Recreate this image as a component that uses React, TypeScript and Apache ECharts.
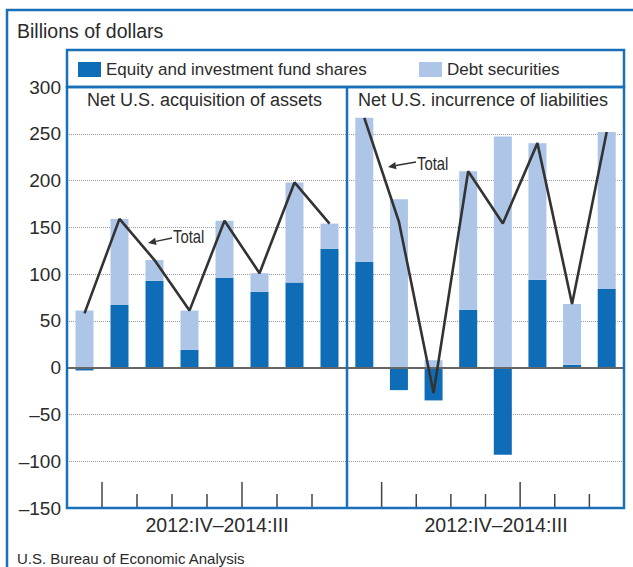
import React, { useEffect, useRef } from "react";
import * as echarts from "echarts";

const quarters = ["2012:IV", "2013:I", "2013:II", "2013:III", "2013:IV", "2014:I", "2014:II", "2014:III"];
const assetsEquity = [-3, 67, 93, 19, 96, 81, 91, 127];
const assetsDebt = [61, 92, 22, 42, 61, 20, 107, 27];
const assetsTotal = [58, 159, 115, 61, 157, 101, 198, 154];
const liabEquity = [113, -24, -35, 62, -93, 94, 3, 84];
const liabDebt = [154, 180, 8, 148, 247, 146, 65, 168];
const liabTotal = [267, 156, -27, 210, 154, 240, 68, 252];
const yMin = -150;
const yMax = 300;
const yStep = 50;
const periodLabel = "2012:IV\u20132014:III";
const EQ = "Equity and investment fund shares";
const DEBT = "Debt securities";

const FONT = "'Liberation Sans', Arial, Helvetica, sans-serif";
const BLUE = "#1a70b8";
const DARK = "#0f6cb6";
const LIGHT = "#adc5e6";
const TXT = "#2b2b2b";

export default function App() {
  const ref = useRef<HTMLDivElement>(null);
  useEffect(() => {
    if (!ref.current) return;
    const chart = echarts.init(ref.current, null, { renderer: "svg" });
    const xAx = (g: number) => ({
      gridIndex: g,
      type: "category",
      data: quarters,
      position: "bottom",
      axisLine: { show: false },
      axisLabel: { show: false },
      axisTick: { show: false },
      splitLine: { show: false },
    });
    const yAx = (g: number, labels: boolean) => ({
      gridIndex: g,
      type: "value",
      min: yMin,
      max: yMax,
      interval: yStep,
      axisLine: { show: false },
      axisTick: { show: false },
      axisLabel: {
        show: labels,
        fontSize: 19,
        fontFamily: FONT,
        color: TXT,
        margin: 6,
        formatter: (v: number) => String(v).replace("-", "\u2013"),
      },
      splitLine: { show: true, lineStyle: { type: "dotted", color: "#9a9a9a", width: 1 } },
    });
    const zeroLine = {
      silent: true,
      symbol: ["none", "none"],
      label: { show: false },
      lineStyle: { color: "#666", type: "solid", width: 2 },
      data: [{ yAxis: 0 }],
    };
    const barSeries = (name: string, data: number[], xi: number, yi: number, color: string, stack: string, ml?: any) => ({
      name,
      type: "bar",
      xAxisIndex: xi,
      yAxisIndex: yi,
      data,
      stack,
      barWidth: 18,
      itemStyle: { color },
      z: 2,
      ...(ml ? { markLine: ml } : {}),
    });
    const lineSeries = (data: number[], xi: number, yi: number) => ({
      name: "Total",
      type: "line",
      xAxisIndex: xi,
      yAxisIndex: yi,
      data,
      symbol: "none",
      lineStyle: { color: "#333", width: 2.6 },
      z: 5,
    });
    // quarter-boundary ticks along the bottom axis; taller at the start of each year
    const tickSeries = (xi: number, yi: number) => ({
      type: "custom",
      xAxisIndex: xi,
      yAxisIndex: yi,
      silent: true,
      z: 3,
      clip: false,
      data: quarters.map((_, i) => [i, yMin]).slice(1),
      renderItem: (params: any, api: any) => {
        const i = api.value(0);
        const c = api.coord([i, yMin]);
        const band = api.size([1, 0])[0];
        const x = c[0] - band / 2;
        const major = quarters[i].endsWith(":I");
        return {
          type: "line",
          shape: { x1: x, y1: c[1], x2: x, y2: c[1] - (major ? 26 : 14) },
          style: { stroke: "#444", lineWidth: 1.5 },
        };
      },
    });
    const arrow = (tip: number[], tail: number[]) => {
      const dx = tip[0] - tail[0];
      const dy = tip[1] - tail[1];
      const len = Math.sqrt(dx * dx + dy * dy);
      const ux = dx / len, uy = dy / len;
      const bx = tip[0] - ux * 8, by = tip[1] - uy * 8;
      const px = -uy * 3.6, py = ux * 3.6;
      return [
        { type: "line", z: 110, shape: { x1: tail[0], y1: tail[1], x2: bx, y2: by }, style: { stroke: "#333", lineWidth: 1.5 } },
        {
          type: "polygon",
          z: 110,
          shape: { points: [tip, [bx + px, by + py], [bx - px, by - py]] },
          style: { fill: "#333" },
        },
      ];
    };
    const text = (t: string, x: number, y: number, size: number, align = "left", sx = 1) => ({
      type: "text",
      x,
      y,
      scaleX: sx,
      z: 110,
      style: { text: t, fontSize: size, fontFamily: FONT, fill: TXT, align, verticalAlign: "middle" },
    });
    const option: any = {
      animation: false,
      textStyle: { fontFamily: FONT },
      grid: [
        { left: 67, top: 87, width: 280, bottom: 59, show: false },
        { left: 347, top: 87, width: 277, bottom: 59, show: false },
      ],
      legend: [
        {
          data: [EQ],
          left: 78,
          top: 61,
          padding: 0,
          itemWidth: 23,
          itemHeight: 15,
          icon: "rect",
          selectedMode: false,
          textStyle: { fontSize: 17, color: TXT, fontFamily: FONT },
        },
        {
          data: [DEBT],
          left: 419,
          top: 61,
          padding: 0,
          itemWidth: 23,
          itemHeight: 15,
          icon: "rect",
          selectedMode: false,
          textStyle: { fontSize: 17, color: TXT, fontFamily: FONT },
        },
      ],
      xAxis: [xAx(0), xAx(1)],
      yAxis: [yAx(0, true), yAx(1, false)],
      series: [
        barSeries(EQ, assetsEquity, 0, 0, DARK, "a"),
        barSeries(DEBT, assetsDebt, 0, 0, LIGHT, "a", zeroLine),
        lineSeries(assetsTotal, 0, 0),
        tickSeries(0, 0),
        barSeries(EQ, liabEquity, 1, 1, DARK, "l"),
        barSeries(DEBT, liabDebt, 1, 1, LIGHT, "l", zeroLine),
        lineSeries(liabTotal, 1, 1),
        tickSeries(1, 1),
      ],
      graphic: [
        { type: "rect", z: 100, shape: { x: 7, y: 10, width: 700, height: 700 }, style: { fill: "none", stroke: BLUE, lineWidth: 2.5 } },
        { type: "rect", z: 100, shape: { x: 67, y: 50, width: 557, height: 37 }, style: { fill: "none", stroke: BLUE, lineWidth: 2.5 } },
        { type: "rect", z: 100, shape: { x: 67, y: 87, width: 557, height: 421 }, style: { fill: "none", stroke: BLUE, lineWidth: 2.5 } },
        { type: "line", z: 100, shape: { x1: 347, y1: 87, x2: 347, y2: 508 }, style: { stroke: BLUE, lineWidth: 2.5 } },
        text("Billions of dollars", 17, 31, 19.5),
        text("Net U.S. acquisition of assets", 87, 100, 18),
        text("Net U.S. incurrence of liabilities", 358, 100, 18),
        text(periodLabel, 217, 525, 19.5, "center"),
        text(periodLabel, 496, 525, 19.5, "center"),
        text("U.S. Bureau of Economic Analysis", 17, 558, 15),
        text("Total", 173, 237, 18.5, "left", 0.8),
        text("Total", 417, 164, 18.5, "left", 0.8),
        ...arrow([148, 243], [172, 238]),
        ...arrow([388, 167], [416, 162]),
      ],
    };
    chart.setOption(option);
    return () => chart.dispose();
  }, []);
  return (
    <div
      ref={ref}
      style={{ position: "absolute", left: 0, top: 0, width: 633, height: 567, background: "#fff" }}
    />
  );
}
